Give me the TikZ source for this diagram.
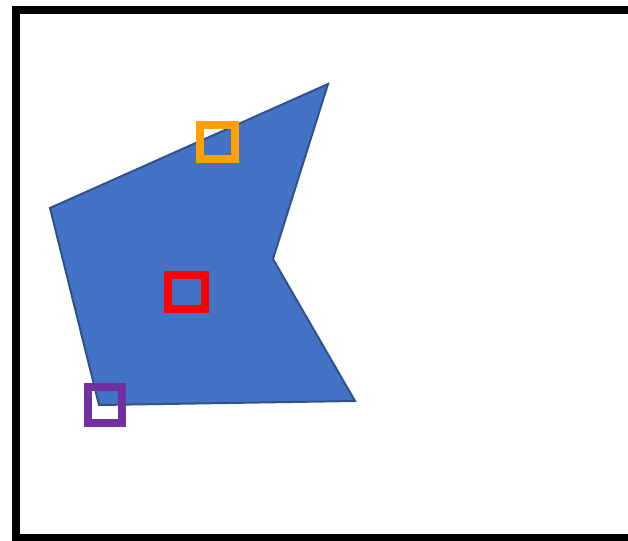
\documentclass[tikz,border=0pt]{standalone}
\usepackage{xcolor}
\usepackage{tikz}
\usetikzlibrary{calc}
\definecolor{ShapeBlue}{RGB}{68,114,196}
\definecolor{ShapeEdge}{RGB}{47,82,143}
\definecolor{MarkOrange}{RGB}{255,160,0}
\definecolor{MarkRed}{RGB}{255,0,0}
\definecolor{MarkPurple}{RGB}{112,48,160}
\begin{document}
\begin{tikzpicture}[x=1pt, y=-1pt, marker/.style={line width=8pt}]
		\useasboundingbox (0,0) rectangle (628,540);
		% frame, right side runs off the page
		\draw[line width=8pt] (16,10) rectangle (700,538);
		% corners of the polygon
		\coordinate (top) at (328,84);
		\coordinate (notch) at (273,259);
		\coordinate (br) at (355,401);
		\coordinate (bl) at (99,405);
		\coordinate (left) at (50,208);
		\draw[fill=ShapeBlue, draw=ShapeEdge, line width=2pt, line join=miter] (top) -- (notch) -- (br) -- (bl) -- (left) -- cycle;
		% the three markers
		\draw[marker, MarkOrange] (199.5,125) rectangle (234.5,159);
		\draw[marker, MarkRed] (167.5,274.5) rectangle (205,309);
		\draw[marker, MarkPurple] (87.5,386.5) rectangle (122,423);
	\end{tikzpicture}
\end{document}
